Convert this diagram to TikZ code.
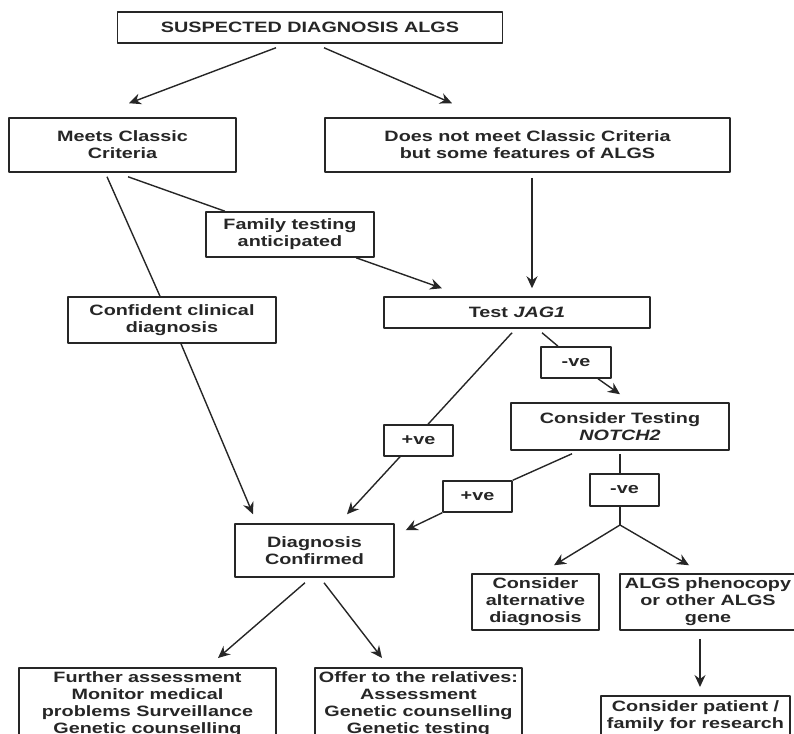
\documentclass[tikz,border=0pt]{standalone}
\usepackage{fontspec}
\newfontfamily\algsfont[FakeStretch=1.32]{Liberation Sans}
\usetikzlibrary{arrows.meta}
\definecolor{ink}{HTML}{262626}
\tikzset{
  every picture/.style={line join=round, >={Stealth[length=12pt,width=11pt,inset=4pt]}},
  box/.style={draw=ink, line width=1.5pt, fill=white, text=ink, align=center, inner sep=2pt,
    font=\algsfont\bfseries\fontsize{15}{17}\selectfont},
  arr/.style={->, draw=ink, line width=1.4pt},
  ln/.style={draw=ink, line width=1.4pt},
}

\begin{document}
\begin{tikzpicture}[x=1pt,y=-1pt]
\useasboundingbox (0,0) rectangle (794,733);
\node[box,minimum width=385pt,minimum height=31pt](top) at (310,27.5){SUSPECTED DIAGNOSIS ALGS};
\node[box,minimum width=227pt,minimum height=54pt](meets) at (122.5,145){Meets Classic\\Criteria};
\node[box,minimum width=405pt,minimum height=54pt](notmeet) at (527.5,145){Does not meet Classic Criteria\\but some features of ALGS};
\node[box,minimum width=168pt,minimum height=45pt](family) at (290,234.5){Family testing\\anticipated};
\node[box,minimum width=208pt,minimum height=46pt](confident) at (172,320){Confident clinical\\diagnosis};
\node[box,minimum width=266pt,minimum height=31pt](jag) at (517,312.5){Test \textit{JAG1}};
\node[box,minimum width=70pt,minimum height=31pt](negjag) at (576,362.5){-ve};
\node[box,minimum width=69pt,minimum height=31pt](posjag) at (418.5,440.5){+ve};
\node[box,minimum width=218pt,minimum height=47pt](notch) at (620,426.5){Consider Testing\\\textit{NOTCH2}};
\node[box,minimum width=69pt,minimum height=31pt](posnotch) at (477.5,496.5){+ve};
\node[box,minimum width=69pt,minimum height=32pt](negnotch) at (624.5,490){-ve};
\node[box,minimum width=159pt,minimum height=53pt](diag) at (314.5,550.5){Diagnosis\\Confirmed};
\node[box,minimum width=127pt,minimum height=56pt,inner sep=1pt](alt) at (535.5,602){Consider\\alternative\\diagnosis};
\node[box,minimum width=176pt,minimum height=56pt,inner sep=1pt](pheno) at (708,602){ALGS phenocopy\\or other ALGS\\gene};
\node[box,anchor=north,minimum width=257pt,minimum height=72pt,inner sep=0pt](further) at (147.5,667){Further assessment\\Monitor medical\\problems Surveillance\\Genetic counselling};
\node[box,anchor=north,minimum width=207pt,minimum height=72pt,inner sep=0pt](offer) at (418.5,667){Offer to the relatives:\\Assessment\\Genetic counselling\\Genetic testing};
\node[box,anchor=north,minimum width=189pt,minimum height=40pt,inner sep=1pt](patient) at (695.5,695){Consider patient /\\family for research};
\coordinate (split) at (620,525);

\draw[arr]([xshift=-34pt,yshift=-4pt]top.south)--([xshift=6.5pt,yshift=14pt]meets.north);
\draw[arr]([xshift=14pt,yshift=-4pt]top.south)--([xshift=-75.5pt,yshift=14pt]notmeet.north);
\draw[ln]([xshift=-15.5pt,yshift=-4pt]meets.south)--([xshift=-12pt]confident.north);
\draw[arr]([xshift=9pt]confident.south)--([xshift=-61.5pt,yshift=9pt]diag.north);
\draw[ln]([xshift=5.5pt,yshift=-4pt]meets.south)--([xshift=-65pt]family.north);
\draw[arr]([xshift=66pt]family.south)--([xshift=-75pt,yshift=8pt]jag.north);
\draw[arr]([xshift=4.5pt,yshift=-5pt]notmeet.south)--([xshift=15pt,yshift=8pt]jag.north);
\draw[ln]([xshift=-5pt,yshift=-4pt]jag.south)--([xshift=9.5pt]posjag.north);
\draw[arr]([xshift=-18.5pt]posjag.south)--([xshift=32.5pt,yshift=9pt]diag.north);
\draw[ln]([xshift=25pt,yshift=-4pt]jag.south)--([xshift=-18pt]negjag.north);
\draw[arr]([xshift=22pt]negjag.south)--([yshift=8pt]notch.north);
\draw[ln]([xshift=-48pt,yshift=-3pt]notch.south)--(posnotch.north east);
\draw[arr](posnotch.south west)--([xshift=11pt,yshift=-7pt]diag.north east);
\draw[ln]([yshift=-3pt]notch.south)--([xshift=-4.5pt]negnotch.north);
\draw[ln]([xshift=-4.5pt]negnotch.south)--(split);
\draw[arr](split)--([xshift=18.5pt,yshift=8pt]alt.north);
\draw[arr](split)--([xshift=-19pt,yshift=8pt]pheno.north);
\draw[arr]([xshift=-9.5pt,yshift=-5pt]diag.south)--([xshift=70.5pt,yshift=9pt]further.north);
\draw[arr]([xshift=9.5pt,yshift=-5pt]diag.south)--([xshift=-36.5pt,yshift=9pt]offer.north);
\draw[arr]([xshift=-8pt,yshift=-8pt]pheno.south)--([xshift=4.5pt,yshift=8pt]patient.north);
\end{tikzpicture}
\end{document}
